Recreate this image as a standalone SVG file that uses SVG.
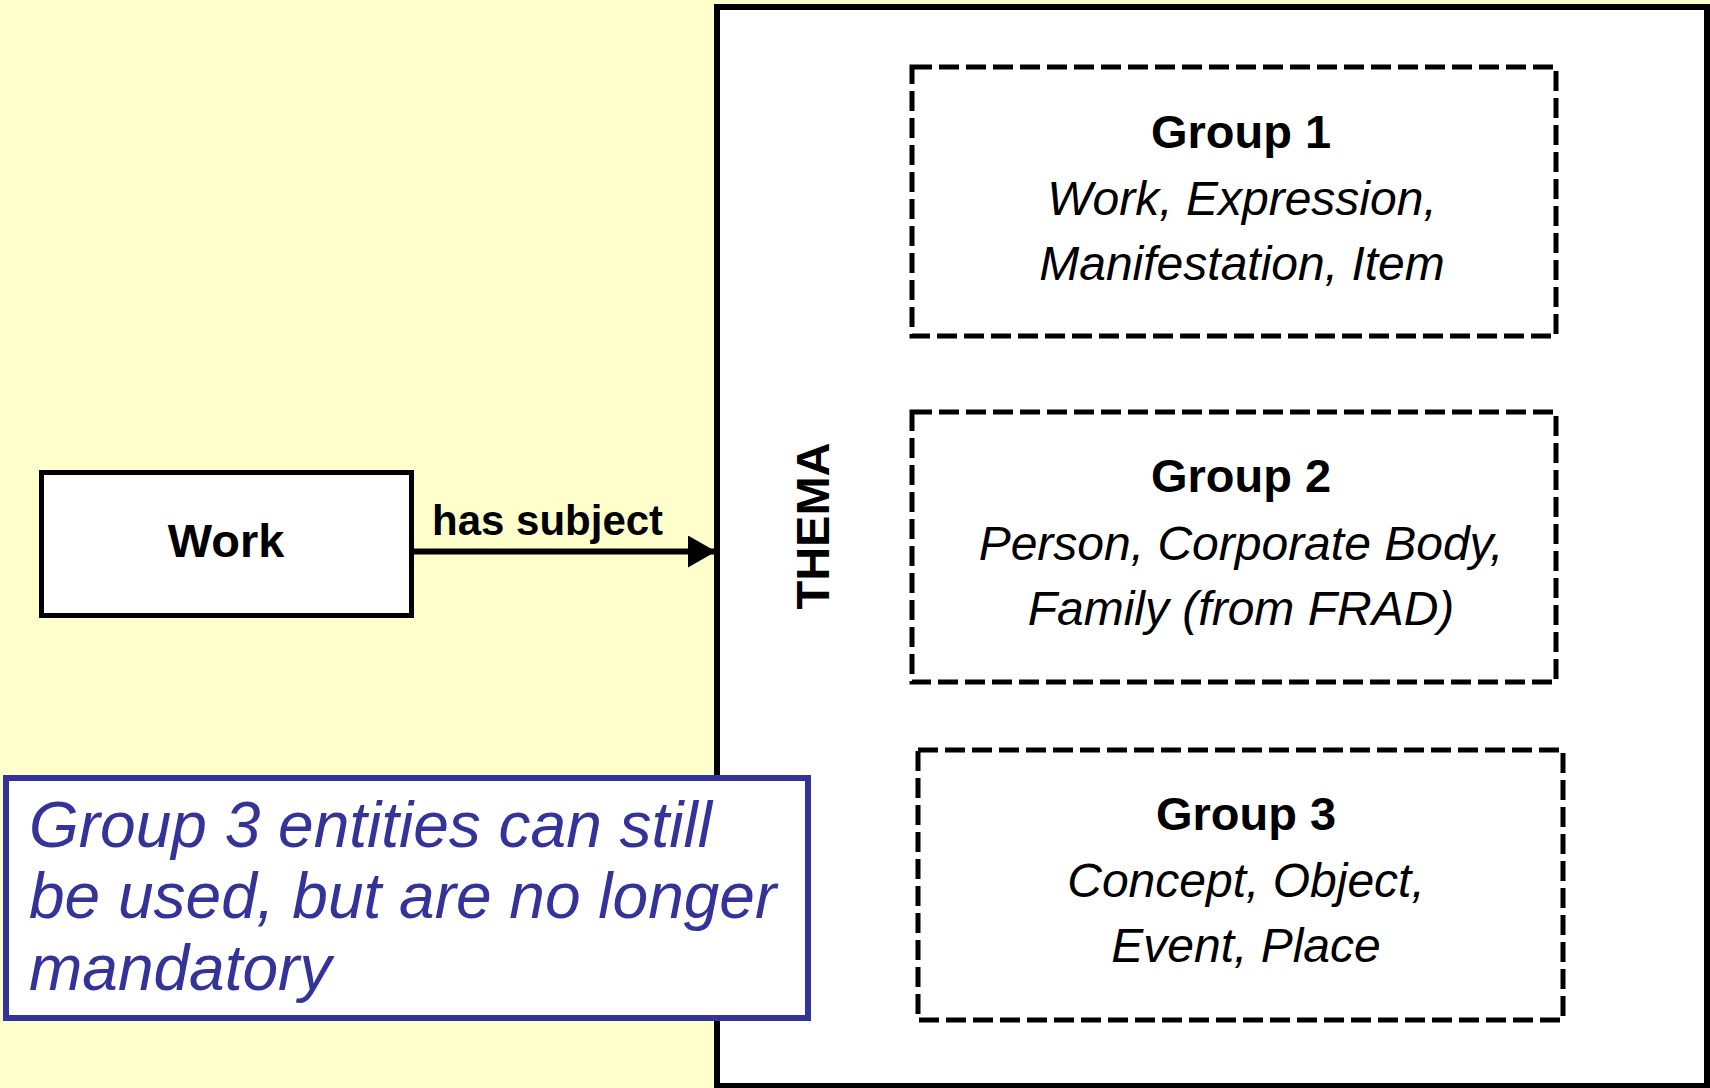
<svg xmlns="http://www.w3.org/2000/svg" width="1710" height="1088" viewBox="0 0 1710 1088">
<style>
.t{font-family:"Liberation Sans",Arial,sans-serif;fill:#000}
.b{font-weight:bold}
.i{font-style:italic}
.g{font-size:48px;text-anchor:middle}
.gb{font-size:47px;text-anchor:middle}
.dash{fill:none;stroke:#000;stroke-width:5;stroke-dasharray:20 7}
.note{font-family:"Liberation Sans",Arial,sans-serif;font-style:italic;font-size:64px;fill:#333399}
</style>
<defs>
<marker id="ah" markerUnits="userSpaceOnUse" markerWidth="30" markerHeight="34" refX="28" refY="16" orient="auto">
<polygon points="0,0 28,16 0,32" fill="#000"/>
</marker>
</defs>
<rect x="0" y="0" width="1710" height="1088" fill="#FFFFCC"/>
<g id="thema">
<rect x="717" y="7" width="990" height="1079" fill="#fff" stroke="#000" stroke-width="6"/>
<text class="t b" font-size="47" text-anchor="middle" transform="translate(829,526) rotate(-90)">THEMA</text>
</g>
<g id="group1">
<rect class="dash" x="912" y="67" width="644" height="269"/>
<text class="t b gb" x="1241" y="148">Group 1</text>
<text class="t i g" x="1242" y="215">Work, Expression,</text>
<text class="t i g" x="1242" y="280">Manifestation, Item</text>
</g>
<g id="group2">
<rect class="dash" x="912" y="412" width="644" height="270"/>
<text class="t b gb" x="1241" y="492">Group 2</text>
<text class="t i g" x="1241" y="560">Person, Corporate Body,</text>
<text class="t i g" x="1241" y="625">Family (from FRAD)</text>
</g>
<g id="group3">
<rect class="dash" x="918" y="750" width="645" height="270"/>
<text class="t b gb" x="1246" y="830">Group 3</text>
<text class="t i g" x="1246" y="897">Concept, Object,</text>
<text class="t i g" x="1246" y="962">Event, Place</text>
</g>
<g id="work">
<rect x="41.5" y="472.5" width="370" height="143" fill="#fff" stroke="#000" stroke-width="5"/>
<text class="t b" font-size="47" text-anchor="middle" x="226" y="557">Work</text>
</g>
<g id="connectors">
<line x1="414" y1="551.5" x2="716" y2="551.5" stroke="#000" stroke-width="6" marker-end="url(#ah)"/>
<text class="t b" font-size="42" x="432" y="535">has subject</text>
</g>
<g id="note">
<rect x="6" y="778" width="802" height="240" fill="#fff" stroke="#333399" stroke-width="6"/>
<text class="note" x="29" y="847">Group 3 entities can still</text>
<text class="note" x="29" y="918">be used, but are no longer</text>
<text class="note" x="29" y="990">mandatory</text>
</g>
</svg>
